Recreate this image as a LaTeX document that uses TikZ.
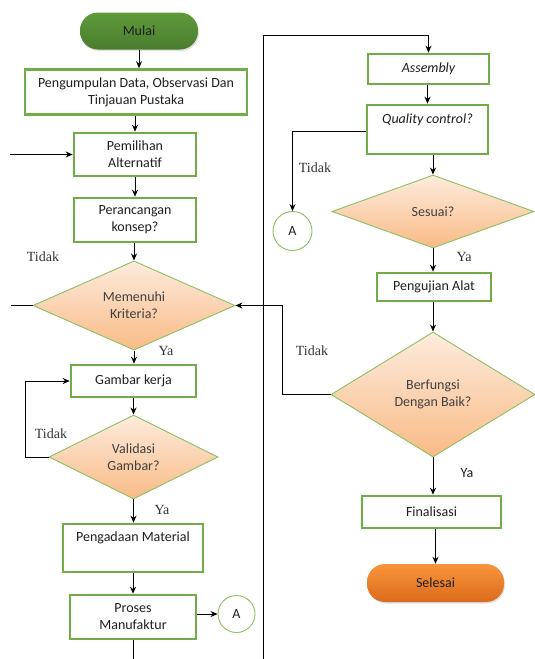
\documentclass[tikz,border=0pt]{standalone}
\usepackage{fontspec}
\setmainfont{Carlito}
\newfontfamily\lblserif{Liberation Serif}
\usetikzlibrary{shapes.geometric,arrows.meta,shadows}
\definecolor{gbord}{HTML}{70AD47}
\definecolor{gthin}{HTML}{8CBF62}
\definecolor{txtc}{HTML}{1F1F1F}
\definecolor{peachT}{HTML}{FDEBDD}
\definecolor{peachB}{HTML}{F9BB86}
\definecolor{greenT}{HTML}{5E9B3C}
\definecolor{greenB}{HTML}{4A7C2D}
\definecolor{orangeT}{HTML}{F8953C}
\definecolor{orangeB}{HTML}{DB6B1C}
\begin{document}
\begin{tikzpicture}[x=1pt,y=-1pt,
  every node/.style={font=\fontsize{14}{17}\selectfont, text=txtc},
  proc/.style={draw=gbord, line width=2.6pt, fill=white, align=center, inner sep=0pt},
  dec/.style={diamond, draw=gthin, line width=0.9pt, top color=peachT, bottom color=peachB, align=center, inner sep=0pt, text=black!75},
  term/.style={rounded corners=18pt, draw=none, align=center, inner sep=0pt, drop shadow={opacity=0.25, shadow xshift=1pt, shadow yshift=-1.5pt}},
  conn/.style={circle, draw=gthin, line width=0.9pt, fill=white, inner sep=0pt},
  lbl/.style={font=\lblserif\fontsize{14}{16}\selectfont, text=black!80},
  arr/.style={-{Stealth[length=7pt,width=6pt]}, line width=1pt, black},
  ln/.style={line width=1pt, black}
]
\useasboundingbox (0,0) rectangle (535,659);

% left column
\node[term, top color=greenT, bottom color=greenB, minimum width=118pt, minimum height=37pt] (mulai) at (139,31) {Mulai};
\node[proc, minimum width=222pt, minimum height=45pt] (kumpul) at (136,92) {Pengumpulan Data, Observasi Dan\\Tinjauan Pustaka};
\node[proc, minimum width=122pt, minimum height=43pt] (pilih) at (135,154.5) {Pemilihan\\Alternatif};
\node[proc, minimum width=122pt, minimum height=44pt] (rancang) at (135,220) {Perancangan\\konsep?};
\node[dec, minimum width=202pt, minimum height=85pt] (kriteria) at (134,305.5) {Memenuhi\\Kriteria?};
\node[proc, minimum width=125pt, minimum height=32pt] (gambar) at (133.5,381) {Gambar kerja};
\node[dec, minimum width=169pt, minimum height=84pt] (valid) at (133.5,457) {Validasi\\Gambar?};
\node[proc, minimum width=140pt, minimum height=48pt] (ada) at (133,548) {Pengadaan Material\\\strut};
\node[proc, minimum width=126pt, minimum height=44pt] (proses) at (133,617) {Proses\\Manufaktur};
\node[conn, minimum size=37pt] (a1) at (236.5,614) {A};
\coordinate (bottomL) at (133,659);

% right column
\node[proc, minimum width=121pt, minimum height=30pt, font=\itshape\fontsize{14}{17}\selectfont] (asm) at (428.5,69) {Assembly};
\node[proc, minimum width=121pt, minimum height=49pt, font=\itshape\fontsize{14}{17}\selectfont] (qc) at (427.5,129.5) {Quality control?\\\strut};
\node[conn, minimum size=39pt] (a2) at (292.5,231) {A};
\node[dec, minimum width=202pt, minimum height=73pt] (sesuai) at (433,211.5) {Sesuai?};
\node[proc, minimum width=114pt, minimum height=28pt] (uji) at (434,287) {Pengujian Alat};
\node[dec, minimum width=204pt, minimum height=125pt] (fungsi) at (433,394.5) {Berfungsi\\Dengan Baik?};
\node[proc, minimum width=139pt, minimum height=32pt] (final) at (431.5,512) {Finalisasi};
\node[term, top color=orangeT, bottom color=orangeB, minimum width=137pt, minimum height=38pt] (selesai) at (435.5,583) {Selesai};

% labels
\node[lbl] (t1) at (43,257) {Tidak};
\node[lbl] (y1) at (166,351) {Ya};
\node[lbl] (t2) at (51,434) {Tidak};
\node[lbl] (y2) at (162,510) {Ya};
\node[lbl] (t3) at (315,168) {Tidak};
\node[lbl] (y3) at (464,257) {Ya};
\node[lbl] (t4) at (312,351) {Tidak};
\node (y4) at (467,473) {Ya};

% free ends
\coordinate (inL) at (10,154.5);
\coordinate (outL) at (11,305.5);
\coordinate (divB) at (263,659);
\coordinate (divT) at (263,35);
\coordinate (loopR) at (282,394.5);
\coordinate (loopL) at (25,457);

% connectors left
\draw[arr] (mulai.south) -- (mulai.south |- kumpul.north);
\draw[arr] (kumpul.south -| pilih.north) -- (pilih.north);
\draw[arr] (inL) -- (pilih.west);
\draw[arr] (pilih.south) -- (rancang.north);
\draw[arr] (rancang.south -| kriteria.north) -- (kriteria.north);
\draw[ln] (kriteria.west) -- (outL);
\draw[arr] (kriteria.south) -- (kriteria.south |- gambar.north);
\draw[arr] (gambar.south) -- (gambar.south |- valid.north);
\draw[arr] (valid.west) -- (loopL) |- (gambar.west);
\draw[arr] (valid.south) -- (valid.south |- ada.north);
\draw[arr] (ada.south) -- (ada.south |- proses.north);
\draw[arr] (proses.east |- a1.west) -- (a1.west);
\draw[ln] (proses.south) -- (bottomL);

% divider and right connectors
\draw[arr] (divB) -- (divT) -| (asm.north);
\draw[arr] (asm.south -| qc.north) -- (qc.north);
\draw[arr] ([yshift=-1.5pt]qc.west) -| (a2.north);
\draw[arr] (qc.south -| sesuai.north) -- (sesuai.north);
\draw[arr] (sesuai.south) -- (sesuai.south |- uji.north);
\draw[arr] (uji.south -| fungsi.north) -- (fungsi.north);
\draw[arr] (fungsi.west) -- (loopR) |- (kriteria.east);
\draw[arr] (fungsi.south) -- (fungsi.south |- final.north);
\draw[arr] (final.south -| selesai.north) -- (selesai.north);
\end{tikzpicture}
\end{document}
